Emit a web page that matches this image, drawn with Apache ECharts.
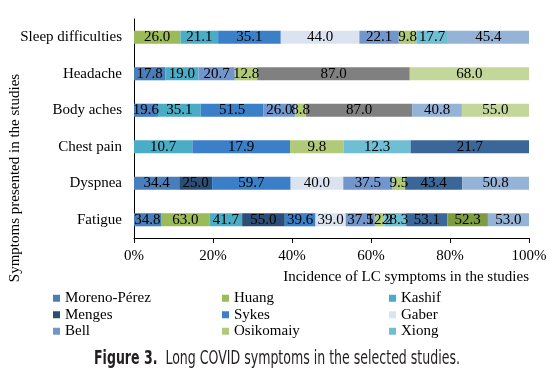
<!DOCTYPE html>
<html>
<head>
<meta charset="utf-8">
<script src="https://cdn.jsdelivr.net/npm/echarts@6/dist/echarts.min.js"></script>
<style>
html,body{margin:0;padding:0;background:#fff;}
#chart{width:554px;height:373px;}
</style>
</head>
<body>
<div id="chart"></div>
<script>
// Categories, bottom to top
const categories = ['Fatigue', 'Dyspnea', 'Chest pain', 'Body aches', 'Headache', 'Sleep difficulties'];

// Study names (legend shows first nine)
const studyNames = ['Moreno-Pérez', 'Huang', 'Kashif', 'Menges', 'Sykes', 'Gaber', 'Bell', 'Osikomaiy', 'Xiong',
  'Study 10', 'Study 11', 'Study 12', 'Study 13', 'Study 14'];

// Incidence (%) per study, per category [Fatigue, Dyspnea, Chest pain, Body aches, Headache, Sleep difficulties]
const morenoPerez = [34.8, 34.4, null, 19.6, 17.8, null];
const huang       = [63.0, null, null, null, null, 26.0];
const kashif      = [41.7, null, 10.7, 35.1, 19.0, 21.1];
const menges      = [55.0, 25.0, null, null, null, null];
const sykes       = [39.6, 59.7, 17.9, 51.5, null, 35.1];
const gaber       = [39.0, 40.0, null, null, null, 44.0];
const bell        = [37.5, 37.5, null, 26.0, 20.7, 22.1];
const osikomaiy   = [12.2, 9.5, 9.8, 8.8, 12.8, 9.8];
const xiong       = [28.3, null, 12.3, null, null, 17.7];
const study10     = [53.1, 43.4, 21.7, null, null, null];
const study11     = [52.3, null, null, null, null, null];
const study12     = [null, null, null, 87.0, 87.0, null];
const study13     = [53.0, 50.8, null, 40.8, null, 45.4];
const study14     = [null, null, null, 55.0, 68.0, null];

const xTicks = [0, 20, 40, 60, 80, 100];

const seriesValues = [morenoPerez, huang, kashif, menges, sykes, gaber, bell, osikomaiy, xiong,
  study10, study11, study12, study13, study14];

const colors = ['#4A7EBB', '#9BBB59', '#4BACC6', '#2C4D75', '#3A7FC8', '#DCE3F0', '#7296CC', '#B0CA7A',
  '#70BED3', '#3B6698', '#7D9B3F', '#808080', '#95B3D7', '#C4D79B'];

const totals = categories.map((c, i) => seriesValues.reduce((s, arr) => s + (arr[i] || 0), 0));

const serif = "Liberation Serif";
const narrow = "'Liberation Sans Narrow', 'Arial Narrow', 'DejaVu Sans Condensed', 'Roboto', sans-serif";

const series = seriesValues.map((arr, si) => ({
  name: studyNames[si],
  type: 'bar',
  stack: 'total',
  barCategoryGap: '64%',
  itemStyle: { color: colors[si] },
  label: {
    show: true,
    position: 'inside',
    color: '#000',
    fontFamily: serif,
    fontSize: 15,
    formatter: p => (arr[p.dataIndex] == null ? '' : arr[p.dataIndex].toFixed(1))
  },
  data: arr.map((v, i) => (v == null ? null : v / totals[i] * 100))
}));

const legendText = { fontFamily: serif, fontSize: 15, color: '#000', lineHeight: 16.5 };
const legendCol = (names, left) => ({
  orient: 'vertical',
  left: left,
  top: 290,
  itemWidth: 7,
  itemHeight: 7,
  itemGap: 0,
  itemTextGap: 4,
  icon: 'rect',
  padding: 0,
  selectedMode: false,
  textStyle: legendText,
  formatter: '{t|{name}}',
  data: names.map(n => ({ name: n }))
});
legendText.rich = { t: { fontFamily: serif, fontSize: 15, color: '#000', lineHeight: 16.5 } };

// Title: fit the condensed caption to the reference width
const titleBold = 'Figure 3.';
const titleRest = '  Long COVID symptoms in the selected studies.';
const titleSize = 20;
const cv = document.createElement('canvas').getContext('2d');
cv.font = 'bold ' + titleSize + 'px ' + narrow;
let tw = cv.measureText(titleBold).width;
cv.font = titleSize + 'px ' + narrow;
tw += cv.measureText(titleRest).width;
const titleScale = Math.min(1, 366 / tw);

const chart = echarts.init(document.getElementById('chart'), null, { renderer: 'canvas' });
chart.setOption({
  animation: false,
  backgroundColor: '#fff',
  textStyle: { fontFamily: serif },
  legend: [
    legendCol([studyNames[0], studyNames[3], studyNames[6]], 53),
    legendCol([studyNames[1], studyNames[4], studyNames[7]], 222),
    legendCol([studyNames[2], studyNames[5], studyNames[8]], 389)
  ],
  grid: { left: 134, right: 25, top: 19, bottom: 135, containLabel: false },
  xAxis: {
    type: 'value',
    min: xTicks[0],
    max: xTicks[xTicks.length - 1],
    interval: xTicks[1] - xTicks[0],
    axisLine: { show: true, lineStyle: { color: '#000', width: 1 } },
    axisTick: { show: true, length: 5, lineStyle: { color: '#000' } },
    splitLine: { show: false },
    axisLabel: { formatter: '{value}%', color: '#000', fontFamily: serif, fontSize: 15, margin: 11 }
  },
  yAxis: {
    type: 'category',
    data: categories,
    axisLine: { show: true, lineStyle: { color: '#000', width: 1 } },
    axisTick: { show: false },
    axisLabel: { color: '#000', fontFamily: serif, fontSize: 15, margin: 12 }
  },
  graphic: [
    {
      type: 'text',
      right: 25,
      top: 270,
      style: { text: 'Incidence of LC symptoms in the studies', fill: '#000', font: "15px 'Liberation Serif', serif" }
    },
    {
      type: 'text',
      x: 15,
      y: 178,
      rotation: Math.PI / 2,
      style: { text: 'Symptoms presented in the studies', fill: '#000', font: "15px 'Liberation Serif', serif",
        align: 'center', verticalAlign: 'middle' }
    },
    {
      type: 'text',
      x: 277,
      y: 359,
      scaleX: titleScale,
      style: {
        text: '{b|' + titleBold + '}{n|' + titleRest + '}',
        align: 'center',
        verticalAlign: 'middle',
        rich: {
          b: { fontFamily: narrow, fontSize: titleSize, fontWeight: 'bold', fill: '#231F20' },
          n: { fontFamily: narrow, fontSize: titleSize, fontWeight: 'normal', fill: '#231F20' }
        }
      }
    }
  ],
  series: series
});
</script>
</body>
</html>
